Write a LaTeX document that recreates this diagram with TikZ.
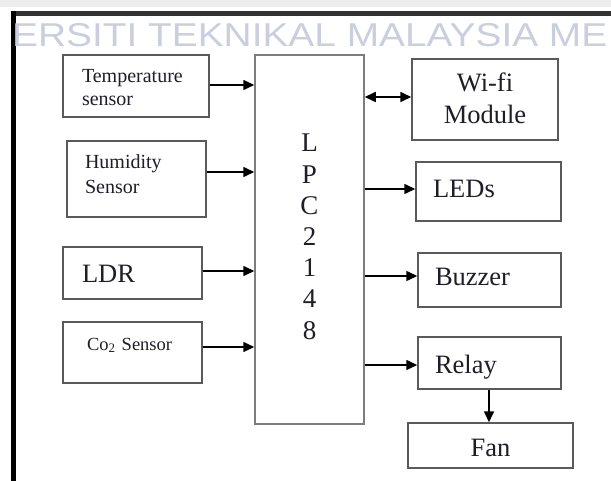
\documentclass[tikz,border=0pt]{standalone}
\usepackage{fontspec}
\setmainfont{Liberation Serif}
\newfontfamily\wmfont{Liberation Sans}
\usetikzlibrary{arrows.meta}
\definecolor{wm}{RGB}{202,206,222}
\definecolor{boxc}{RGB}{90,90,90}
\definecolor{lpcc}{RGB}{125,125,125}
\definecolor{txt}{RGB}{30,30,40}
\begin{document}
\begin{tikzpicture}[x=1pt,y=-1pt,
  box/.style={draw=boxc,line width=1.5pt,rectangle,inner xsep=2pt,inner ysep=0pt,text=txt},
  small/.style={font=\fontsize{20}{23}\selectfont},
  big/.style={font=\fontsize{26.5}{32}\selectfont},
  arr/.style={-{Triangle[length=11pt,width=10pt]},line width=1.6pt,black},
  biarr/.style={{Triangle[length=11pt,width=10pt]}-{Triangle[length=11pt,width=10pt]},line width=1.6pt,black}]
\useasboundingbox (0,0) rectangle (611,481);
\clip (0,0) rectangle (611,481);
\fill[white] (0,0) rectangle (611,481);
% frame
\fill[black!7] (0,0) rectangle (611,7);
\fill[black!80] (11,11) rectangle (611,16);
\fill[black] (11,11) rectangle (16,481);
% watermark
\node[anchor=base west,inner sep=0pt,xscale=1.177,text=wm,font=\wmfont\fontsize{33}{33}\selectfont] (wmark) at (12,47) {ERSITI TEKNIKAL MALAYSIA ME};
% inputs
\node[box,small,minimum width=146pt,minimum height=62pt,text width=108pt,align=left,text height=13.5pt,text depth=19.5pt] (temp) at (136,86) {Temperature\\sensor};
\node[box,small,font=\fontsize{20}{25}\selectfont,minimum width=139pt,minimum height=76pt,text width=103pt,align=left,text height=13.7pt,text depth=33.7pt] (hum) at (136.5,179) {Humidity\\Sensor};
\node[box,big,minimum width=139pt,minimum height=52pt,text width=101pt,align=left,text height=18.5pt,text depth=0pt] (ldr) at (132.5,273) {LDR};
\node[box,font=\fontsize{18.5}{22}\selectfont,minimum width=139pt,minimum height=61pt,text width=91pt,align=left,text height=14pt,text depth=19pt] (co2) at (132.5,352.5) {\mbox{Co\textsubscript{2} Sensor}};
% controller
\node[box,draw=lpcc,font=\fontsize{27}{31.2}\selectfont,minimum width=109pt,minimum height=369pt,text width=100pt,align=center,text height=18pt,text depth=193pt] (lpc) at (309.5,239.5) {L\\P\\C\\2\\1\\4\\8};
% outputs
\node[box,big,minimum width=146pt,minimum height=81pt,text width=140pt,align=center,text height=17.5pt,text depth=32.5pt] (wifi) at (485,99.5) {Wi-fi\\Module};
\node[box,big,minimum width=145pt,minimum height=59pt,text width=111pt,align=left,text height=17.5pt,text depth=6pt] (leds) at (488.5,191.5) {LEDs};
\node[box,big,minimum width=143pt,minimum height=54pt,text width=109pt,align=left,text height=17.5pt,text depth=6pt] (buzz) at (489.5,280) {Buzzer};
\node[box,big,minimum width=143pt,minimum height=52pt,text width=109pt,align=left,text height=21.5pt,text depth=0pt] (relay) at (489.5,363) {Relay};
\node[box,big,minimum width=165pt,minimum height=45pt,text width=150pt,align=center,text height=22.5pt,text depth=0pt] (fan) at (490.5,445.5) {Fan};
% connectors
\draw[arr] ([yshift=1pt]temp.east) -- ([yshift=1pt]temp.east -| lpc.west);
\draw[arr] ([yshift=7pt]hum.east) -- ([yshift=7pt]hum.east -| lpc.west);
\draw[arr] ([yshift=2pt]ldr.east) -- ([yshift=2pt]ldr.east -| lpc.west);
\draw[arr] ([yshift=5.5pt]co2.east) -- ([yshift=5.5pt]co2.east -| lpc.west);
\draw[biarr] ([yshift=2.5pt]wifi.west -| lpc.east) -- ([yshift=2.5pt]wifi.west);
\draw[arr] ([yshift=2.5pt]leds.west -| lpc.east) -- ([yshift=2.5pt]leds.west);
\draw[arr] ([yshift=4pt]buzz.west -| lpc.east) -- ([yshift=4pt]buzz.west);
\draw[arr] ([yshift=-2pt]relay.west -| lpc.east) -- ([yshift=-2pt]relay.west);
\draw[arr] ([xshift=-0.5pt]relay.south) -- ([xshift=-0.5pt]relay.south |- fan.north);
\end{tikzpicture}
\end{document}
